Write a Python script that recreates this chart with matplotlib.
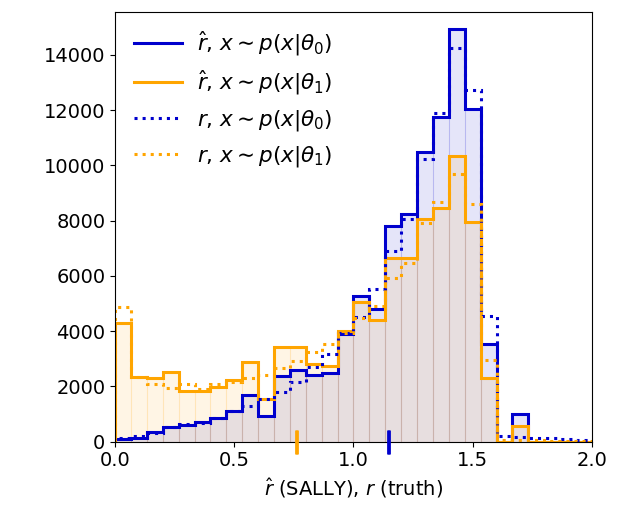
import numpy as np
import matplotlib
matplotlib.use("Agg")
import matplotlib.pyplot as plt
from matplotlib.lines import Line2D

# 30 bins of width 1/15 between 0 and 2
bin_edges = np.linspace(0.0, 2.0, 31)

rhat_theta0 = [100, 130, 340, 540, 600, 700, 850, 1110, 1690, 930,
               2380, 2600, 2410, 2480, 3900, 5280, 4800, 7800, 8240, 10500,
               11740, 14940, 12040, 3530, 0, 1000, 0, 0, 0, 0]
rhat_theta1 = [4290, 2350, 2300, 2530, 1840, 1840, 1990, 2240, 2880, 1540,
               3420, 3420, 2810, 2740, 4000, 5060, 4400, 6640, 6640, 8050,
               8450, 10350, 7960, 2290, 0, 570, 0, 0, 0, 0]
r_theta0 = [120, 200, 300, 540, 650, 660, 850, 1100, 1290, 1530,
            1810, 2170, 2690, 3180, 3950, 4500, 5520, 6910, 8050, 10220,
            11890, 14240, 12730, 4550, 200, 160, 150, 130, 110, 60]
r_theta1 = [4860, 2330, 2100, 1960, 2090, 1900, 2100, 2150, 2300, 2400,
            2660, 2920, 3260, 3530, 3950, 4460, 4910, 5920, 6480, 7930,
            8690, 9690, 8590, 2960, 50, 60, 50, 40, 30, 20]

mean_rhat = {"theta0": 1.149, "theta1": 0.764}
mean_r = {"theta0": 1.143, "theta1": 0.758}

labels = [r"$\hat{r}$, $x\sim p(x|\theta_0)$", r"$\hat{r}$, $x\sim p(x|\theta_1)$",
          r"$r$, $x\sim p(x|\theta_0)$", r"$r$, $x\sim p(x|\theta_1)$"]

c0 = "#0000cd"
c1 = "#ffa500"

plt.rcParams["font.size"] = 14
fig = plt.figure(figsize=(6.23, 5.12), dpi=100)
ax = fig.add_axes([0.1846, 0.1373, 0.7656, 0.8393])

centers = 0.5 * (bin_edges[1:] + bin_edges[:-1])
widths = np.diff(bin_edges)

ax.bar(centers, rhat_theta0, width=widths, color=c0, alpha=0.1, edgecolor=c0, linewidth=0.8)
ax.bar(centers, rhat_theta1, width=widths, color=c1, alpha=0.1, edgecolor=c1, linewidth=0.8)

ax.stairs(rhat_theta0, bin_edges, color=c0, lw=2.2)
ax.stairs(rhat_theta1, bin_edges, color=c1, lw=2.2)
ax.stairs(r_theta0, bin_edges, color=c0, lw=2.2, ls=":")
ax.stairs(r_theta1, bin_edges, color=c1, lw=2.2, ls=":")

ax.plot([mean_rhat["theta1"]], [0], marker="|", ms=17, mew=2, color=c1, clip_on=False, zorder=5)
ax.plot([mean_r["theta1"]], [0], marker="|", ms=17, mew=2, color=c1, clip_on=False, zorder=5)
ax.plot([mean_rhat["theta0"]], [0], marker="|", ms=17, mew=2, color=c0, clip_on=False, zorder=5)
ax.plot([mean_r["theta0"]], [0], marker="|", ms=17, mew=2, color=c0, clip_on=False, zorder=5)

ax.set_xlim(0.0, 2.0)
ax.set_ylim(0, 15550)
ax.set_xticks([0.0, 0.5, 1.0, 1.5, 2.0])
ax.set_yticks(np.arange(0, 14001, 2000))
ax.tick_params(labelsize=14)
ax.set_xlabel(r"$\hat{r}$ (SALLY), $r$ (truth)", fontsize=14)

handles = [Line2D([], [], color=c0, lw=2.2), Line2D([], [], color=c1, lw=2.2),
           Line2D([], [], color=c0, lw=2.2, ls=":"), Line2D([], [], color=c1, lw=2.2, ls=":")]
ax.legend(handles, labels, loc="upper left", frameon=False, fontsize=15.5,
          bbox_to_anchor=(0.0, 1.005), handlelength=2.2, labelspacing=0.5,
          handletextpad=0.7)

fig.savefig("out.png", dpi=100)
